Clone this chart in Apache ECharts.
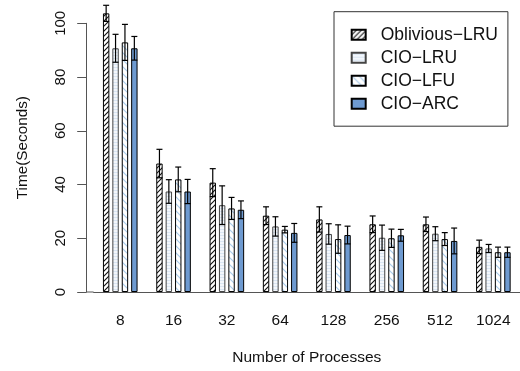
<!DOCTYPE html>
<html>
<head>
<meta charset="utf-8">
<script src="https://cdn.jsdelivr.net/npm/echarts@6/dist/echarts.min.js"></script>
<style>
  html, body { margin: 0; padding: 0; background: #fff; }
  #main { width: 520px; height: 371px; }
</style>
</head>
<body>
<div id="main"></div>
<script>
// 数据
var categories = ['8', '16', '32', '64', '128', '256', '512', '1024'];
var seriesNames = ['Oblivious\u2212LRU', 'CIO\u2212LRU', 'CIO\u2212LFU', 'CIO\u2212ARC'];
var obliviousLru = [103.7, 47.8, 40.7, 28.4, 27.0, 25.2, 25.2, 16.8];
var cioLru = [90.7, 37.4, 32.3, 24.4, 21.6, 20.2, 21.7, 16.2];
var cioLfu = [92.9, 41.9, 31.1, 23.2, 19.7, 20.0, 19.7, 14.8];
var cioArc = [90.7, 37.4, 30.6, 22.0, 21.2, 21.1, 19.0, 14.8];
var obliviousSd = [3.0, 5.3, 5.2, 3.3, 4.7, 3.1, 2.7, 2.5];
var lruSd = [5.2, 4.4, 7.2, 3.6, 3.8, 4.7, 2.6, 1.5];
var lfuSd = [6.7, 4.6, 4.1, 1.2, 5.3, 3.4, 2.4, 1.9];
var arcSd = [4.4, 4.5, 3.3, 3.5, 3.3, 2.2, 4.8, 1.9];
var yTicks = [0, 20, 40, 60, 80, 100];

var means = [obliviousLru, cioLru, cioLfu, cioArc];
var sds = [obliviousSd, lruSd, lfuSd, arcSd];

// 布局
var gridLeft = 93.6, gridTop = 23.3, gridWidth = 432.5, gridHeight = 270;
var axisOffset = 7;
var barW = 6.4, barGapPx = 3.0;
var font = 'Liberation Sans, Arial, Helvetica, sans-serif';
var axisColor = '#555';

// 填充图案
function hatch(bg, fg, dir, step, lw) {
    var c = document.createElement('canvas');
    c.width = step; c.height = step;
    var g = c.getContext('2d');
    g.fillStyle = bg;
    g.fillRect(0, 0, step, step);
    g.strokeStyle = fg;
    g.lineWidth = lw;
    g.beginPath();
    if (dir === '/') {
        g.moveTo(-1, step + 1); g.lineTo(step + 1, -1);
        g.moveTo(-1, 1); g.lineTo(1, -1);
        g.moveTo(step - 1, step + 1); g.lineTo(step + 1, step - 1);
    } else if (dir === '\\') {
        g.moveTo(-1, -1); g.lineTo(step + 1, step + 1);
        g.moveTo(step - 1, -1); g.lineTo(step + 1, 1);
        g.moveTo(-1, step - 1); g.lineTo(1, step + 1);
    } else if (dir === '-') {
        g.moveTo(0, step / 2); g.lineTo(step, step / 2);
    } else if (dir === '|') {
        g.moveTo(step / 2, 0); g.lineTo(step / 2, step);
    }
    g.stroke();
    return { image: c, repeat: 'repeat' };
}

var fills = [
    hatch('#ffffff', '#111111', '/', 5, 1.1),
    hatch('#f3f7fc', '#dae6f3', '-', 3, 1),
    hatch('#ffffff', '#a9cbea', '\\', 7, 1.2),
    hatch('#7fa8da', '#5f8cc6', '|', 2, 1)
];
var borders = ['#000', '#444', '#000', '#000'];

var chart = echarts.init(document.getElementById('main'));

var series = [];
for (var i = 0; i < 4; i++) {
    series.push({
        name: seriesNames[i],
        type: 'bar',
        data: means[i],
        barWidth: barW,
        barGap: (barGapPx / barW * 100) + '%',
        clip: false,
        itemStyle: { color: fills[i], borderColor: borders[i], borderWidth: 1 },
        emphasis: { disabled: true }
    });
}
for (var i = 0; i < 4; i++) {
    (function (k) {
        var off = (k - 1.5) * (barW + barGapPx);
        series.push({
            type: 'custom',
            silent: true,
            z: 5,
            clip: false,
            data: categories.map(function (c, j) { return [j, means[k][j], sds[k][j]]; }),
            encode: { x: 0, y: 1 },
            renderItem: function (params, api) {
                var cat = api.value(0), m = api.value(1), sd = api.value(2);
                var top = api.coord([cat, m + sd]);
                var bot = api.coord([cat, m - sd]);
                var x = top[0] + off;
                var st = { stroke: '#000', lineWidth: 1.2 };
                return {
                    type: 'group',
                    children: [
                        { type: 'line', shape: { x1: x, y1: top[1], x2: x, y2: bot[1] }, style: st },
                        { type: 'line', shape: { x1: x - 3, y1: top[1], x2: x + 3, y2: top[1] }, style: st },
                        { type: 'line', shape: { x1: x - 3, y1: bot[1], x2: x + 3, y2: bot[1] }, style: st }
                    ]
                };
            }
        });
    })(i);
}

var option = {
    animation: false,
    backgroundColor: '#fff',
    textStyle: { fontFamily: font },
    grid: { left: gridLeft, top: gridTop, width: gridWidth, height: gridHeight },
    legend: {
        data: seriesNames,
        orient: 'vertical',
        left: 334,
        top: 11.7,
        icon: 'rect',
        itemWidth: 14,
        itemHeight: 10,
        itemGap: 5,
        padding: [14, 10, 13.5, 16.7],
        borderColor: '#333',
        borderWidth: 1,
        selectedMode: false,
        textStyle: { fontFamily: font, fontSize: 17.5, color: '#111', padding: [0, 0, 0, 10] }
    },
    xAxis: {
        type: 'category',
        data: categories,
        name: 'Number of Processes',
        nameLocation: 'middle',
        nameGap: 58,
        nameTextStyle: { fontFamily: font, fontSize: 15.5, color: '#111' },
        axisLine: { lineStyle: { color: axisColor, width: 1 } },
        axisTick: { alignWithLabel: true, length: 9, lineStyle: { color: axisColor } },
        axisLabel: { fontFamily: font, fontSize: 15.5, color: '#111', margin: 21 }
    },
    yAxis: {
        type: 'value',
        min: 0,
        max: yTicks[yTicks.length - 1],
        interval: 20,
        offset: axisOffset,
        name: 'Time(Seconds)',
        nameLocation: 'middle',
        nameGap: 56,
        nameTextStyle: { fontFamily: font, fontSize: 15.3, color: '#111', padding: [0, 0, 0, 20] },
        axisLine: { show: true, lineStyle: { color: axisColor, width: 1 } },
        axisTick: { show: true, length: 9.4, lineStyle: { color: axisColor } },
        axisLabel: { fontFamily: font, fontSize: 15, color: '#111', rotate: 90, margin: 18 },
        splitLine: { show: false }
    },
    series: series
};
chart.setOption(option);

// 零线延伸到 y 轴
var y0 = chart.convertToPixel({ yAxisIndex: 0 }, 0);
chart.setOption({
    graphic: [{
        type: 'line',
        silent: true,
        shape: { x1: gridLeft - axisOffset, y1: y0, x2: gridLeft, y2: y0 },
        style: { stroke: axisColor, lineWidth: 1 }
    }]
});
</script>
</body>
</html>
